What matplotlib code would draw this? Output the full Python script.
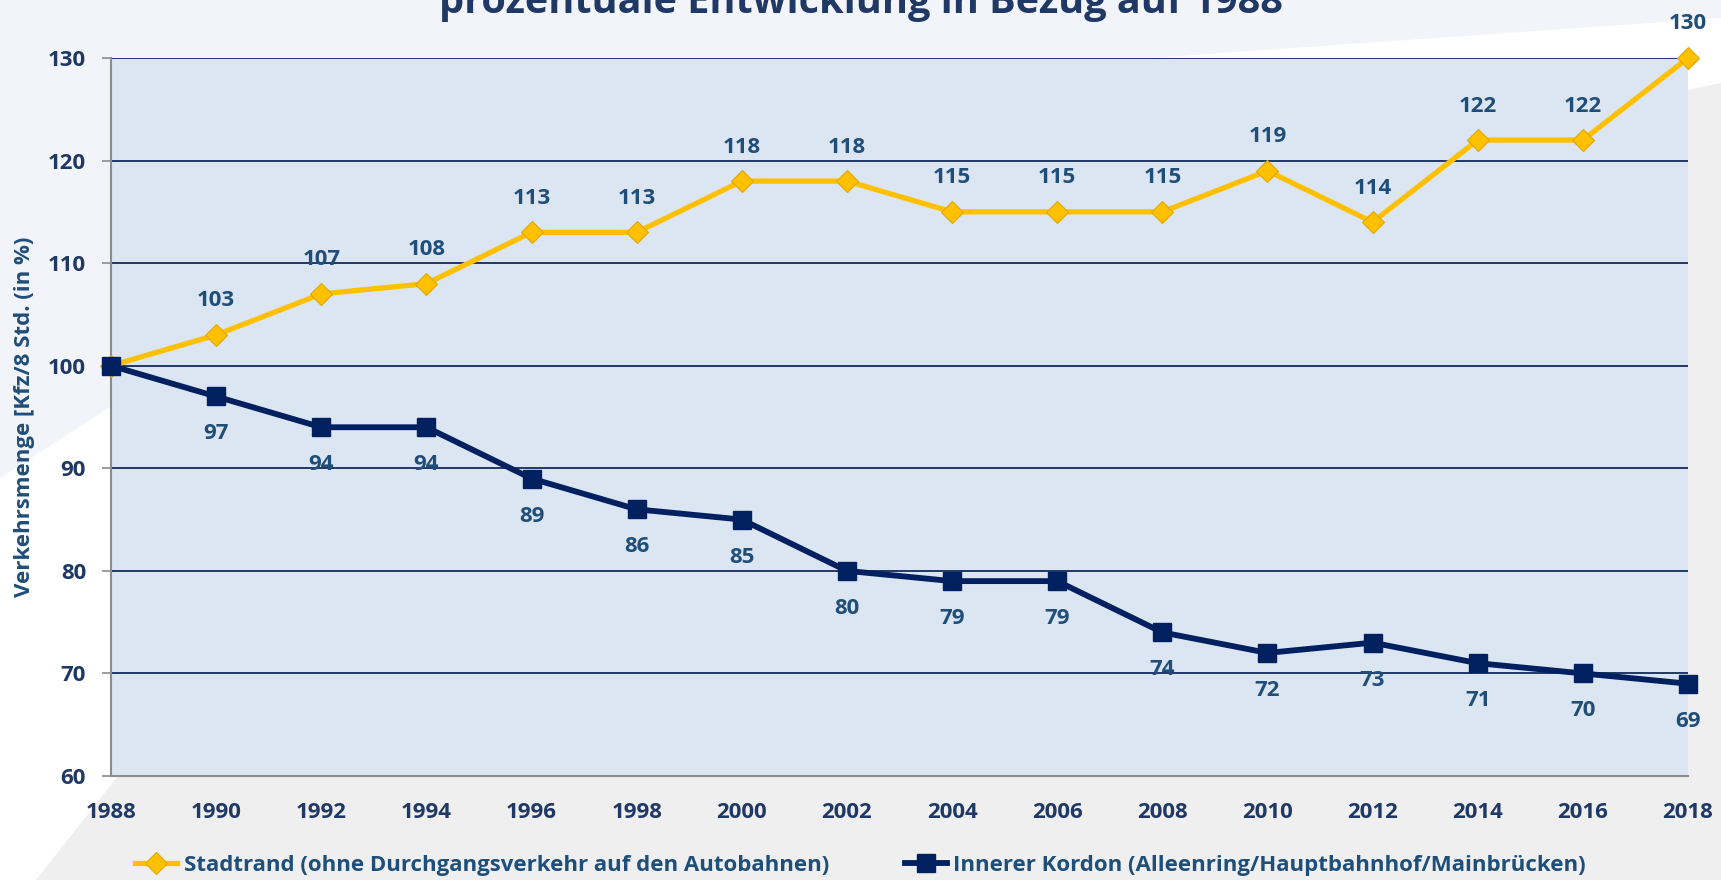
import matplotlib
matplotlib.use("Agg")
import matplotlib.pyplot as plt
from matplotlib.patches import Polygon

years = [1988, 1990, 1992, 1994, 1996, 1998, 2000, 2002,
         2004, 2006, 2008, 2010, 2012, 2014, 2016, 2018]
stadtrand = [100, 103, 107, 108, 113, 113, 118, 118, 115, 115, 115, 119, 114, 122, 122, 130]
kordon = [100, 97, 94, 94, 89, 86, 85, 80, 79, 79, 74, 72, 73, 71, 70, 69]
y_ticks = [60, 70, 80, 90, 100, 110, 120, 130]

title = "prozentuale Entwicklung in Bezug auf 1988"
ylabel = "Verkehrsmenge [Kfz/8 Std. (in %)"
label_stadt = "Stadtrand (ohne Durchgangsverkehr auf den Autobahnen)"
label_kordon = "Innerer Kordon (Alleenring/Hauptbahnhof/Mainbrücken)"

navy = "#002060"
yellow = "#FFC000"
text_dark = "#1F3864"
text_blue = "#1F4E79"

plt.rcParams['font.family'] = ['Open Sans', 'DejaVu Sans']
plt.rcParams['font.weight'] = 'bold'

W, H = 1721, 880
fig = plt.figure(figsize=(W / 100, H / 100), dpi=100)
fig.patch.set_facecolor("white")

def px(points):
    return [(x / W, 1 - y / H) for x, y in points]

# background shapes
fig.patches.append(Polygon(px([(0, 0), (W, 0), (W, 18), (1150, 58), (110, 407), (0, 478)]),
                           closed=True, transform=fig.transFigure, facecolor="#F2F4F9",
                           edgecolor="none", zorder=-10))
fig.patches.append(Polygon(px([(36, H), (118, 776), (1688, 90), (W, 83), (W, H)]),
                           closed=True, transform=fig.transFigure, facecolor="#EFEFEF",
                           edgecolor="none", zorder=-10))

ax = fig.add_axes([111 / W, 1 - 776 / H, (1688 - 111) / W, (776 - 58) / H])
ax.set_facecolor("#DCE6F2")

ax.plot(years, stadtrand, color=yellow, lw=3.8, marker="D", markersize=11,
        markerfacecolor=yellow, markeredgecolor="#E0A800", markeredgewidth=0.8,
        clip_on=False, zorder=4, label=label_stadt)
ax.plot(years, kordon, color=navy, lw=4.2, marker="s", markersize=13,
        markerfacecolor=navy, markeredgecolor=navy,
        clip_on=False, zorder=4, label=label_kordon)

# the 1988 base value is not labelled
for x, y in zip(years[1:], stadtrand[1:]):
    ax.annotate(str(y), (x, y), textcoords="offset points", xytext=(0, 24.5),
                ha="center", va="center", fontsize=16, color=text_blue,
                fontweight="bold", annotation_clip=False)
for x, y in zip(years[1:], kordon[1:]):
    ax.annotate(str(y), (x, y), textcoords="offset points", xytext=(0, -27),
                ha="center", va="center", fontsize=16, color=text_blue,
                fontweight="bold", annotation_clip=False)

ax.set_xlim(1988, 2018)
ax.set_ylim(60, 130)
ax.set_xticks(years)
ax.set_yticks(y_ticks)
ax.tick_params(axis="x", length=0, pad=19, labelsize=16, labelcolor=text_dark)
ax.tick_params(axis="y", length=6.5, width=1.2, color="#8C8C8C", pad=11.5,
               labelsize=16, labelcolor=text_dark)

ax.grid(axis="y", color=text_dark, lw=1.4)
ax.set_axisbelow(True)
for side in ["top", "right"]:
    ax.spines[side].set_visible(False)
for side in ["left", "bottom"]:
    ax.spines[side].set_color("#8C8C8C")
    ax.spines[side].set_linewidth(1.5)

ax.set_ylabel(ylabel, fontsize=16, color=text_blue, fontweight="bold", labelpad=9)

fig.text(0.5, 1 - 13 / H, title, ha="center", va="baseline", fontsize=28.5,
         color=text_dark, fontweight="bold")

fig.legend(loc="center", bbox_to_anchor=(0.5, 1 - 865 / H), ncol=2, frameon=False,
           fontsize=16, labelcolor=text_blue, handlelength=1.9, handletextpad=0.3,
           columnspacing=3.4)

fig.savefig("out.png", dpi=100, facecolor=fig.get_facecolor())
